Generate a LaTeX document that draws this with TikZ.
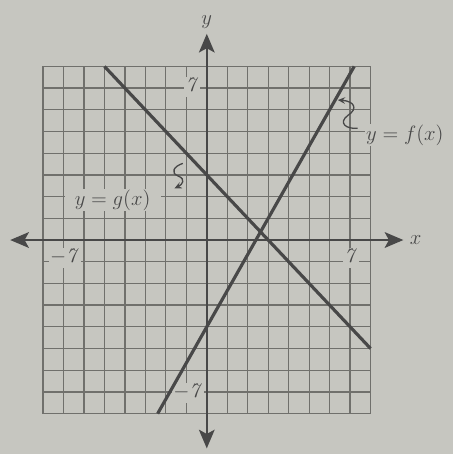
\documentclass[tikz,border=0pt]{standalone}
\usepackage{amsmath}
\usetikzlibrary{arrows.meta, positioning}
\definecolor{cP}{RGB}{198,198,192}
\definecolor{cG}{RGB}{112,112,108}
\definecolor{cL}{RGB}{72,72,72}

\begin{document}
\begin{tikzpicture}[x=0.5cm, y=0.53cm, font=\fontsize{14.5}{17}\selectfont,
    lbl/.style={fill=cP, text=cL, inner sep=1pt},
    axis/.style={line width=1pt, draw=cL, {Stealth[length=13pt, width=11pt, inset=3pt]}-{Stealth[length=13pt, width=11pt, inset=3pt]}},
    fn/.style={line width=2.2pt, draw=cL},
    ptr/.style={line width=0.9pt, draw=cL, -{Stealth[length=5pt, width=4.5pt]}}]
    % paper
    \fill[cP] (-10.1,-9.86) rectangle (12.05,11.06);

    % grid
    \foreach \i in {-8,...,8} {
        \draw[cG, line width=0.9pt] (\i,-8) -- (\i,8);
        \draw[cG, line width=0.9pt] (-8,\i) -- (8,\i);
    }

    % axes
    \coordinate (xl) at (-9.6,0);
    \coordinate (xr) at (9.6,0);
    \coordinate (yb) at (0,-9.6);
    \coordinate (yt) at (0,9.5);
    \draw[axis] (xl) -- (xr);
    \draw[axis] (yb) -- (yt);
    \node[text=cL, right=1pt of xr] (xlab) {$x$};
    \node[text=cL, above=0pt of yt] (ylab) {$y$};

    % tick labels
    \node[lbl] (tx7) at (7.04,-0.84) {$\mathit{7}$};
    \node[lbl] (txm7) at (-6.94,-0.84) {$-\mathit{7}$};
    \node[lbl] (ty7) at (-0.71,7.06) {$\mathit{7}$};
    \node[lbl] (tym7) at (-0.92,-7.06) {$-\mathit{7}$};

    % f and g
    \coordinate (fa) at (-2.4,-8);
    \coordinate (fb) at (7.2,8);
    \coordinate (ga) at (-5,8);
    \coordinate (gb) at (8,-5);
    \draw[fn] (fa) -- (fb);
    \draw[fn] (ga) -- (gb);

    % labels
    \node[lbl, anchor=west, inner ysep=0.5pt] (flab) at (7.7,4.84) {$y=f(x)$};
    \node[lbl, inner xsep=7pt, inner ysep=0.5pt] (glab) at (-4.6,1.84) {$y=g(x)$};

    % squiggly pointers
    \coordinate (fs) at (7.37,5.15);
    \coordinate (fpt) at (6.40,6.45);
    \draw[ptr] (fs) .. controls (6.8,5.1) and (6.4,5.4) .. (6.9,5.75)
        .. controls (7.4,6.05) and (7.2,6.4) .. (fpt);
    \coordinate (gs) at (-1.17,3.53);
    \coordinate (gpt) at (-1.58,2.38);
    \draw[ptr] (gs) .. controls (-1.6,3.4) and (-1.8,3.1) .. (-1.4,2.95)
        .. controls (-1.0,2.8) and (-1.2,2.55) .. (gpt);
\end{tikzpicture}
\end{document}
